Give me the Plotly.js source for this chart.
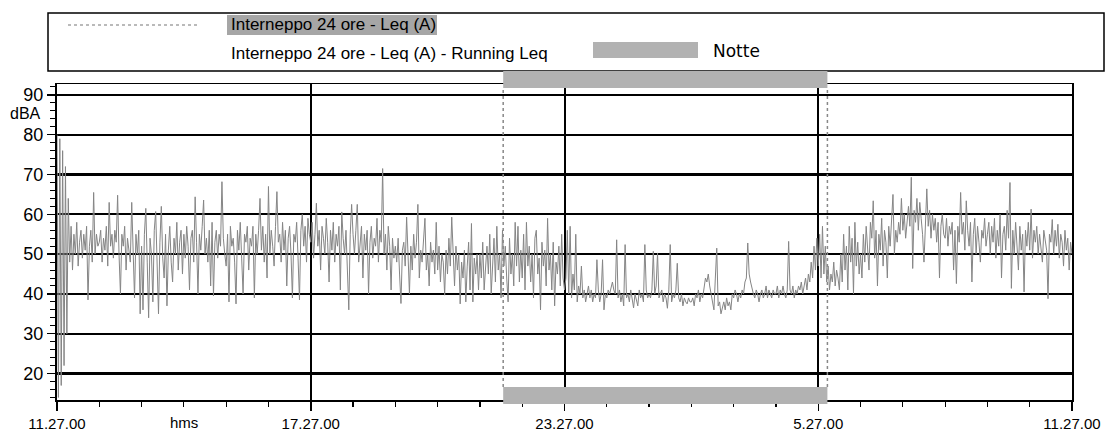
<!DOCTYPE html>
<html><head><meta charset="utf-8">
<script src="https://cdn.plot.ly/plotly-3.0.1.min.js"></script>
<style>html,body{margin:0;padding:0;background:#fff}#chart{width:1107px;height:433px}</style>
</head><body><div id="chart"></div><script>
// ---- data ----
const seriesName = 'Interneppo 24 ore - Leq (A)';
const runningName = 'Interneppo 24 ore - Leq (A) - Running Leq';
const nightName = 'Notte';
const startTime = Date.UTC(2000, 0, 1, 11, 27, 0);
const stepMinutes = 2;
// Leq (A) values, one row per hour starting at 11.27.00, 2-minute samples
const leqH00 = [80,14,79,17,76,22,72,30,64,48,57,46,55,50,58,47,53,56,49,55,51,57,38.5,52,56,48,65.5,50,55,52];
const leqH01 = [53,56,48,54,51,57,47,63,52,55,49,56,53,64.8,50,40,55,52,57,46,54,51,48,63,53,39,55,50,56,35];
const leqH02 = [52,36,55,61.5,48,34,54,50,38,56,60.7,47,35,53,62,49,44,55,37,51,57,48,43,54,50,58,46,53,56,45];
const leqH03 = [55,49,57,52,41,54,56,48,64.4,53,40,55,51,57,63.6,50,54,48,56,42,58,39.5,53,56,49,55,52,68.2,54,50];
const leqH04 = [47,55,38,57,52,54,48,37.5,56,51,58,49,40,55,53,57,46,54,52,57,39,55,50,56,64,51,57,48,55,44];
const leqH05 = [67,50,56,52,47,57,65.7,53,55,48,58,51,56,42,54,57,50,39,55,53,58,49,38.5,56,60,52,57,48,59,55];
const leqH06 = [53,58,49,55,62.8,52,56,46,57,54,50,59,53,43,56,51,58,48,55,52,57,41,60.6,54,50,56,47,36,55,62.5];
const leqH07 = [55,50,56,62.5,48,54,57,44,55,51,56,40,53,57,49,54,52,59,48,56,53,71.5,50,55,46,57,52,41,54,49];
const leqH08 = [52,48,54,45,37.6,51,53,47,59.3,50,40,52,46,55,49,53,62.5,44,51,48,54,59,46,50,42,53,48,51,45,58];
const leqH09 = [46,52,43,50,48,39.7,51,45,54,47,59.3,49,42,52,46,50,37.5,48,44,51,38,47,53,41,57.7,38,49,45,50,41];
const leqH10 = [50,44,53,41,48,52,45,55,40,49,54,43,57,46,50,39,56,47,52,44,38,54,45,50,42,58,47,57,43,51];
const leqH11 = [44,55,41,58,47,52,43,50,39,54,56,45,49,36,53,47,51,42,59,46,50,41,53,37,48,45,52,42,55,44];
const leqH12 = [41,44,56,40,57,39,45,41,55,38,42,40,47,39,41,38,40,42,39,41,38,40,39,48.6,41,38,40,48.6,36,40];
const leqH13 = [39,41,40,42,43,41,40,53.6,39,41,38,40,37,52.4,39,40,38,41,39,36.5,40,38,37,41,39,40,38,52.4,41,39];
const leqH14 = [40,39,41,50.7,40,42,50.3,39,40,41,38,40,39,36.4,41,52.4,38,40,39,41,47.7,39,38,40,37,39,38,37.5,39,38];
const leqH15 = [38,39,37,40,39,41,38,40,39,42,44,43,45,42,40,39,36,44,51.5,37,38,35,37,38,36,39,37,38,36,40];
const leqH16 = [39,41,40,38,40,39,41,40,43,44,52.8,45,43,41,40,39,41,40,38,40,41,39,40,42,39,41,40,39,41,40];
const leqH17 = [40,42,39,41,40,42,40,39,41,53.2,41,40,42,39,41,40,42,41,43,40,42,44,41,45,43,48,44,52,46,54];
const leqH18 = [47,55,44,57,45,52,43,47,41,45,43,48,42,46,44,41,50,43,55,46,52,41,57,48,54,40,58,47,53,45];
const leqH19 = [50,44,55,48,57,52,46,58,54,63.4,49,56,42,55,51,59,47,56,53,44,57,52,58,65,50,56,53,58,55,64];
const leqH20 = [56,60,54,58,62,57,69.3,46.4,61,58,64,56,63,59,55,48,60,66.4,57,61,54,60,56,59,53,58,44,57,60,55];
const leqH21 = [54,59,52,57,55,58,46,56,42.6,57,53,65.5,55,58,51,63.4,56,52,58,43,55,59,50,57,53,48,56,54,59,52];
const leqH22 = [55,58,50,57,53,59,49,56,52,60,44,55,57,51,61,54,68,41.4,56,50,58,53,46,57,51,55,40.5,56,52,58];
const leqH23 = [51,61.3,49,56,53,57,50,55,52,48,56,54,51,38.8,55,53,58.7,50,56,52,57.5,49,55,53,47,56,51,54,46,53];
const leqEnd = [50];
// night period
const nightStart = '2000-01-01 22:00:00';
const nightEnd = '2000-01-02 05:40:00';
// axis ticks
const xTickVals = ['2000-01-01 11:27:00', '2000-01-01 17:27:00', '2000-01-01 23:27:00', '2000-01-02 05:27:00', '2000-01-02 11:27:00'];
const xTickText = ['11.27.00', '17.27.00', '23.27.00', '5.27.00', '11.27.00'];
const yTickVals = [20, 30, 40, 50, 60, 70, 80, 90];
const yUnit = 'dBA';
const xUnit = 'hms';

// ---- build ----
const leq = [].concat(leqH00, leqH01, leqH02, leqH03, leqH04, leqH05, leqH06, leqH07, leqH08, leqH09, leqH10, leqH11,
  leqH12, leqH13, leqH14, leqH15, leqH16, leqH17, leqH18, leqH19, leqH20, leqH21, leqH22, leqH23, leqEnd);
const times = leq.map((_, i) => new Date(startTime + i * stepMinutes * 60000).toISOString().slice(0, 19).replace('T', ' '));

const W = 1107, H = 433, L = 57, R = 35, T = 84, B = 33;
const pw = W - L - R, ph = H - T - B;
const px = v => (v - L) / pw;
const py = v => (H - B - v) / ph;
const FONT = 'Liberation Sans, Arial, sans-serif';

const traces = [{
  x: times, y: leq, type: 'scatter', mode: 'lines', name: seriesName,
  line: {color: '#858585', width: 1}, showlegend: false, hoverinfo: 'x+y'
}];

const bandColor = '#b2b2b2';
const shapes = [
  // legend box
  {type: 'rect', xref: 'paper', yref: 'paper', x0: px(48), x1: px(1104), y0: py(71), y1: py(13), line: {color: '#000', width: 1.5}, fillcolor: 'rgba(0,0,0,0)'},
  {type: 'rect', xref: 'paper', yref: 'paper', x0: px(227), x1: px(437), y0: py(35), y1: py(15), line: {width: 0}, fillcolor: '#a6a6a6'},
  {type: 'line', xref: 'paper', yref: 'paper', x0: px(68), x1: px(197), y0: py(25), y1: py(25), line: {color: '#777', width: 1.2, dash: 'dot'}},
  {type: 'rect', xref: 'paper', yref: 'paper', x0: px(593), x1: px(698), y0: py(58), y1: py(42), line: {width: 0}, fillcolor: bandColor},
  // night bands
  {type: 'rect', xref: 'x', yref: 'paper', x0: nightStart, x1: nightEnd, y0: py(88), y1: py(71), line: {width: 0}, fillcolor: bandColor, layer: 'above'},
  {type: 'rect', xref: 'x', yref: 'paper', x0: nightStart, x1: nightEnd, y0: py(404), y1: py(387), line: {width: 0}, fillcolor: bandColor, layer: 'above'},
  {type: 'line', xref: 'x', yref: 'paper', x0: nightStart, x1: nightStart, y0: py(387), y1: py(88), line: {color: '#888', width: 1.5, dash: 'dot'}},
  {type: 'line', xref: 'x', yref: 'paper', x0: nightEnd, x1: nightEnd, y0: py(387), y1: py(88), line: {color: '#888', width: 1.5, dash: 'dot'}}
];

const ann = (text, x, y, size, family, anchor) => ({
  text, x, y, xref: 'paper', yref: 'paper', showarrow: false, xanchor: anchor || 'left', yanchor: 'middle',
  font: {family: family || FONT, size, color: '#000'}
});
const annotations = [
  ann(seriesName, px(229), py(25), 17),
  ann(runningName, px(229), py(54), 17),
  ann(nightName, px(711), py(51), 17, 'DejaVu Sans, sans-serif'),
  ann(yUnit, px(25), py(114), 16, FONT, 'center'),
  ann(xUnit, px(184), py(422), 15, FONT, 'center')
];

const layout = {
  width: W, height: H,
  margin: {l: L, r: R, t: T, b: B, pad: 0},
  paper_bgcolor: '#fff', plot_bgcolor: '#fff',
  showlegend: false,
  font: {family: FONT, size: 16, color: '#000'},
  xaxis: {
    type: 'date', range: [xTickVals[0], xTickVals[xTickVals.length - 1]],
    tickmode: 'array', tickvals: xTickVals, ticktext: xTickText,
    ticks: 'outside', ticklen: 9, tickwidth: 1.5, tickcolor: '#000',
    tickfont: {family: FONT, size: 15, color: '#000'},
    showgrid: true, gridcolor: '#000', gridwidth: 2,
    showline: true, linecolor: '#000', linewidth: 1.5, mirror: true,
    zeroline: false, fixedrange: true,
    minor: {dtick: 3600000, tick0: xTickVals[0], ticks: 'outside', ticklen: 5, tickwidth: 1.2, tickcolor: '#000', showgrid: false}
  },
  yaxis: {
    range: [13.35, 92.75],
    tickmode: 'array', tickvals: yTickVals,
    ticks: 'outside', ticklen: 8, tickwidth: 1.5, tickcolor: '#000',
    tickfont: {family: FONT, size: 18, color: '#000'},
    showgrid: true, gridcolor: '#000', gridwidth: 2.2,
    showline: true, linecolor: '#000', linewidth: 2, mirror: true,
    zeroline: false, fixedrange: true,
    minor: {dtick: 2, tick0: 0, ticks: 'outside', ticklen: 5, tickwidth: 1, tickcolor: '#000', showgrid: false}
  },
  shapes, annotations
};

Plotly.newPlot('chart', traces, layout, {staticPlot: true, displayModeBar: false});
</script></body></html>
